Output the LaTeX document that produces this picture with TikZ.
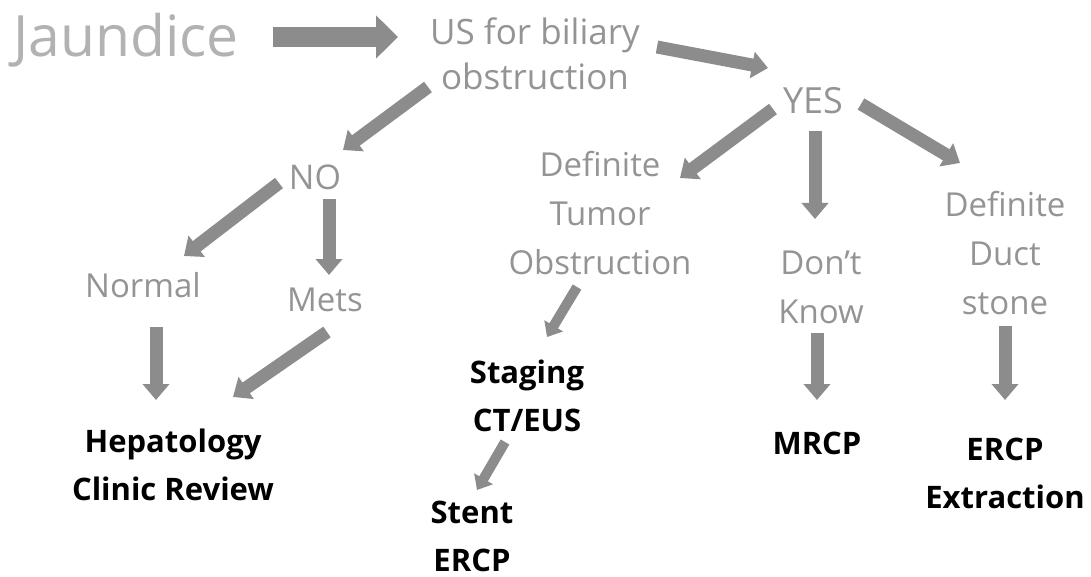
\documentclass[tikz,border=0pt]{standalone}
\usepackage{fontspec}
\setmainfont{Open Sans}
\usetikzlibrary{arrows.meta}

\tikzset{
  pale/.style={text=black!42, align=center, inner sep=0pt,
    font=\fontsize{33}{49}\selectfont},
  dark/.style={text=black, align=center, inner sep=0pt,
    font=\fontsize{31}{48}\selectfont\bfseries},
  bigarrow/.style={draw=black!45, line width=13pt,
    -{Triangle[width=26pt,length=16pt]}},
  thinarrow/.style={bigarrow, line width=10pt,
    -{Triangle[width=21pt,length=13pt]}},
}

\begin{document}
\begin{tikzpicture}[x=1pt, y=-1pt]
      \useasboundingbox (0,0) rectangle (1091,577);

      \node[pale, text=black!30, font=\fontsize{57}{60}\selectfont] (jaundice) at (126,40) {Jaundice};
      \node[pale, font=\fontsize{35}{45}\selectfont] (us) at (535,54) {US for biliary\\obstruction};
      \node[pale, font=\fontsize{36}{49}\selectfont] (yes) at (813,101) {YES};
      \node[pale, font=\fontsize{34}{49}\selectfont] (no) at (315,177) {NO};
      \node[pale] (normal) at (143,285) {Normal};
      \node[pale] (mets) at (325,300) {Mets};
      \node[pale] (tumor) at (600,213) {Definite\\Tumor\\Obstruction};
      \node[pale] (dontknow) at (821,287) {Don't\\Know};
      \node[pale] (duct) at (1005,253) {Definite\\Duct\\stone};

      \node[dark] (hep) at (173,465) {Hepatology\\Clinic Review};
      \node[dark] (staging) at (527,396) {Staging\\CT/EUS};
      \node[dark] (stent) at (472,536) {Stent\\ERCP};
      \node[dark] (mrcp) at (817,443) {MRCP};
      \node[dark] (ercp) at (1005,473) {ERCP\\Extraction};

      \draw[bigarrow, line width=20pt, -{Triangle[width=42pt,length=22pt]}]
        ([shift={(147,-3)}]jaundice.center) -- ([shift={(-137,-17)}]us.center);
      \draw[bigarrow] ([shift={(122,-7)}]us.center) -- ([shift={(-45,-33)}]yes.center);
      \draw[bigarrow] ([shift={(-107,33)}]us.center) -- ([shift={(28,-27)}]no.center);
      \draw[bigarrow] ([shift={(-36,6)}]no.center) -- ([shift={(41,-29)}]normal.center);
      \draw[bigarrow] ([shift={(14,22)}]no.center) -- ([shift={(4,-25)}]mets.center);
      \draw[bigarrow] ([shift={(-40,8)}]yes.center) -- ([shift={(80,-35)}]tumor.center);
      \draw[bigarrow] ([shift={(2,30)}]yes.center) -- ([shift={(-6,-68)}]dontknow.center);
      \draw[bigarrow] ([shift={(48,3)}]yes.center) -- ([shift={(-45,-90)}]duct.center);
      \draw[thinarrow] ([shift={(-23,74)}]tumor.center) -- ([shift={(20,-59)}]staging.center);
      \draw[thinarrow] ([shift={(-22,46)}]staging.center) -- ([shift={(5,-46)}]stent.center);
      \draw[bigarrow] ([shift={(-4,46)}]dontknow.center) -- ([shift={(0,-43)}]mrcp.center);
      \draw[bigarrow] ([shift={(0,73)}]duct.center) -- ([shift={(0,-73)}]ercp.center);
      \draw[bigarrow] ([shift={(13,42)}]normal.center) -- ([shift={(-17,-65)}]hep.center);
      \draw[bigarrow] ([shift={(2,32)}]mets.center) -- ([shift={(60,-68)}]hep.center);
\end{tikzpicture}
\end{document}
